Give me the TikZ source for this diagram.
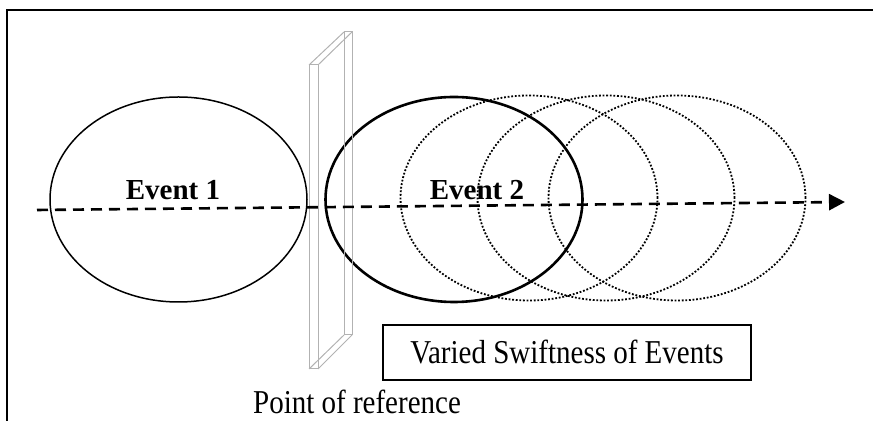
\documentclass[tikz,border=0pt]{standalone}
\usepackage{fontspec}
\setmainfont{Liberation Serif}
\usetikzlibrary{shapes.geometric}
\usetikzlibrary{arrows.meta}
\usetikzlibrary{positioning}

\newcommand{\tallerText}[1]{\scalebox{1}[1.15]{#1}}

\tikzset{
  eventshape/.style={ellipse,draw,inner sep=0,minimum width=128.5pt,minimum height=102.5pt},
  shadow/.style={eventshape,dash pattern=on 0.9pt off 0.9pt,line width=0.9pt},
  panel/.style={draw=black!30,line width=0.5pt},
  eventtext/.style={font=\fontsize{14.5}{17}\selectfont\bfseries},
  plaintext/.style={font=\fontsize{14.5}{17}\selectfont}
}

\begin{document}
\begin{tikzpicture}[x=0.5pt,y=-0.5pt]
				    \useasboundingbox (0,0) rectangle (873,421);
				    % Frame
				    \draw[line width=1pt] (7,421) -- (7,10.5) -- (873,10.5);
				    % Place events
				    \node [eventshape,line width=0.75pt] (ev1) at (178.5,199.5) {};
				    \node [eventshape,line width=1.3pt] (ev2) at (454,199.5) {};
				    \node [shadow] (sh1) at (529,198) {};
				    \node [shadow] (sh2) at (606,198) {};
				    \node [shadow] (sh3) at (677,198) {};
				    \node [eventtext] (lab1) at (173,190) {Event 1};
				    \node [eventtext] (lab2) at (477,190) {Event 2};
				    % Point of reference
				    \draw [panel] (309,65) rectangle (318,369);
				    \draw [panel] (344,32) rectangle (352,335);
				    \draw [panel] (309,65) -- (344,32);
				    \draw [panel] (318,65) -- (352,32);
				    \draw [panel] (309,369) -- (344,335);
				    \draw [panel] (318,369) -- (352,335);
				    \node [plaintext] (ref) at (357,402) {\tallerText{Point of reference}};
				    % Time line
				    \coordinate (start) at (37,210);
				    \coordinate (end) at (845,202);
				    \draw [line width=1.3pt,dash pattern=on 5.5pt off 3.5pt,-{Triangle[length=8pt,width=8pt]}] (start) -- (end);
				    % Caption box
				    \node [plaintext,draw,line width=1pt,minimum width=184pt,minimum height=27.5pt] (swift) at (567,352.5) {\tallerText{Varied Swiftness of Events}};
				
				\end{tikzpicture}
\end{document}
